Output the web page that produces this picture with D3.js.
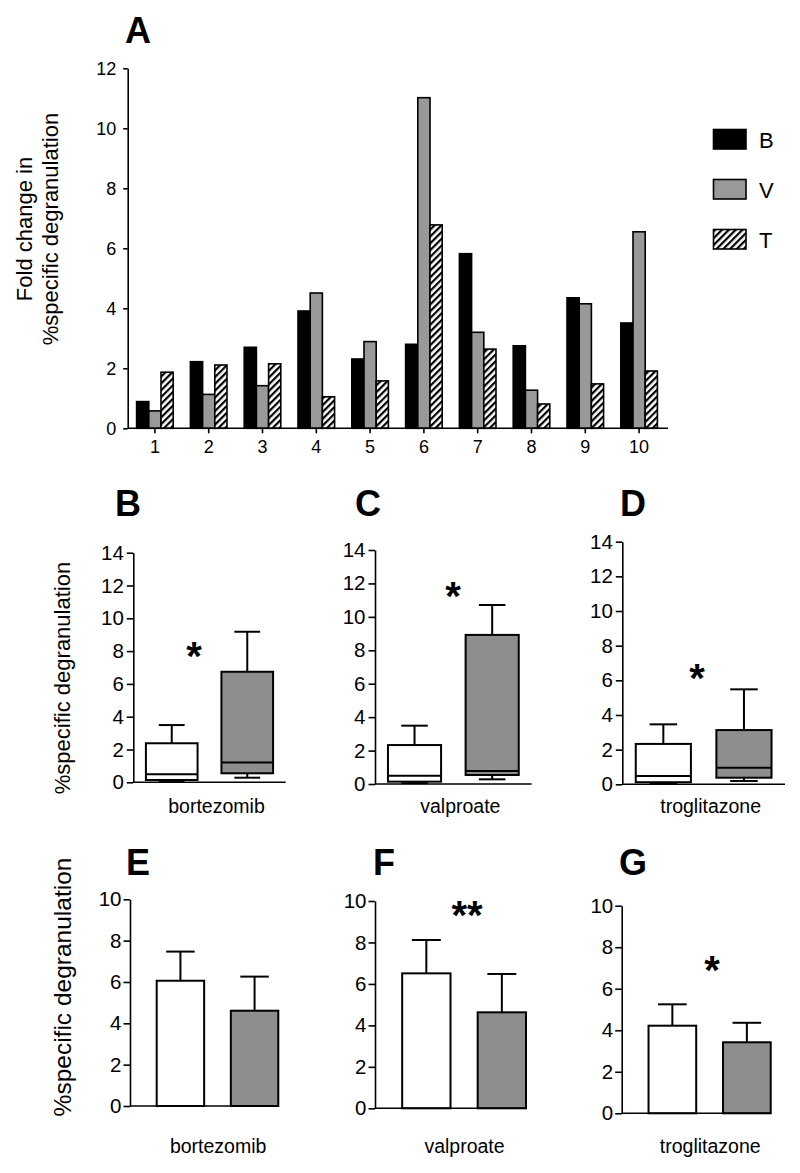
<!DOCTYPE html>
<html><head><meta charset="utf-8">
<script src="https://cdn.jsdelivr.net/npm/d3@7"></script>
<style>
body{margin:0;background:#fff}
svg{display:block}
text{font-family:"Liberation Sans", Arial, sans-serif; fill:#000}
</style>
</head><body><svg id="chart" width="800" height="1173"></svg>
<script>
// ---------- DATA ----------
// Panel A: fold change per donor
const donors = ["1","2","3","4","5","6","7","8","9","10"];
const seriesKeys = ["B","V","T"];
const seriesB = [0.89, 2.22, 2.70, 3.91, 2.31, 2.80, 5.82, 2.75, 4.35, 3.51];
const seriesV = [0.58, 1.13, 1.42, 4.51, 2.89, 11.02, 3.20, 1.27, 4.15, 6.55];
const seriesT = [1.87, 2.11, 2.15, 1.05, 1.58, 6.78, 2.64, 0.81, 1.48, 1.91];
const ticksA = [0, 2, 4, 6, 8, 10, 12];

// Panels B-D: box plots [whiskerLow, q1, median, q3, whiskerHigh]
const drugs = ["bortezomib", "valproate", "troglitazone"];
const groups = ["control", "treated"];
const boxControl = [
  [0.05, 0.14, 0.49, 2.38, 3.49],
  [0.05, 0.14, 0.50, 2.33, 3.49],
  [0.05, 0.12, 0.48, 2.33, 3.46]
];
const boxTreated = [
  [0.28, 0.55, 1.20, 6.74, 9.18],
  [0.28, 0.54, 0.78, 8.92, 10.71],
  [0.19, 0.38, 0.96, 3.13, 5.48]
];
const boxStars = ["*", "*", "*"];
const ticksBox = [0, 2, 4, 6, 8, 10, 12, 14];

// Panels E-G: mean + error
const barControlMean = [6.06, 6.51, 4.22];
const barControlErr  = [1.41, 1.61, 1.03];
const barTreatedMean = [4.61, 4.63, 3.42];
const barTreatedErr  = [1.65, 1.85, 0.94];
const barStars = ["", "**", "*"];
const ticksBar = [0, 2, 4, 6, 8, 10];

// ---------- LAYOUT ----------
const FONT = '"Liberation Sans", Arial, sans-serif';
const GRAY_A = "#999999";
const GRAY = "#8e8e8e";
const svg = d3.select("#chart");

const defs = svg.append("defs");
const pat = defs.append("pattern").attr("id", "hatch")
  .attr("patternUnits", "userSpaceOnUse").attr("width", 4.8).attr("height", 4.8)
  .attr("patternTransform", "rotate(45)");
pat.append("rect").attr("width", 4.8).attr("height", 4.8).attr("fill", "#fff");
pat.append("rect").attr("x", 0).attr("width", 2.2).attr("height", 4.8).attr("fill", "#000");

function styleAxis(g, size, stroke) {
  g.attr("font-size", size);
  g.selectAll("path.domain").attr("stroke", "#000").attr("stroke-width", stroke);
  g.selectAll(".tick line").attr("stroke", "#000").attr("stroke-width", stroke);
  g.selectAll(".tick text").attr("font-size", size).attr("font-family", FONT).attr("fill", "#000");
}
function letter(t, x, y) {
  svg.append("text").attr("x", x).attr("y", y).attr("text-anchor", "middle")
    .attr("font-size", 36).attr("font-weight", "bold").text(t);
}
function star(t, x, cy) {
  if (!t) return;
  svg.append("text").attr("x", x).attr("y", cy + 22).attr("text-anchor", "middle")
    .attr("font-size", 40).attr("font-weight", "bold").text(t);
}
function yTitle(lines, bx, cy, size, gap) {
  lines.forEach((l, i) => {
    svg.append("text").attr("transform", `translate(${bx + i * gap},${cy}) rotate(-90)`)
      .attr("text-anchor", "middle").attr("font-size", size).text(l);
  });
}

// ---------- PANEL A ----------
letter("A", 138, 43);
const xA = d3.scaleBand().domain(donors).range([128, 666]).paddingInner(0.32).paddingOuter(0.16);
const xSub = d3.scaleBand().domain(seriesKeys).range([0, xA.bandwidth()]);
const yA = d3.scaleLinear().domain([0, 12]).range([428.3, 68.3]);
const seriesVals = {B: seriesB, V: seriesV, T: seriesT};
const fills = {B: "#000", V: GRAY_A, T: "url(#hatch)"};

const gA = svg.append("g");
donors.forEach((d, i) => {
  seriesKeys.forEach(k => {
    const v = seriesVals[k][i];
    gA.append("rect")
      .attr("x", xA(d) + xSub(k)).attr("width", xSub.bandwidth())
      .attr("y", yA(v)).attr("height", yA(0) - yA(v))
      .attr("fill", fills[k]).attr("stroke", "#000").attr("stroke-width", 1.6);
  });
});
const axA_y = svg.append("g").attr("transform", `translate(127.7,0)`)
  .call(d3.axisLeft(yA).tickValues(ticksA).tickSizeInner(4.5).tickSizeOuter(0).tickPadding(7));
styleAxis(axA_y, 18, 1.6);
const axA_x = svg.append("g").attr("transform", `translate(0,${yA(0)})`)
  .call(d3.axisBottom(xA).tickSizeInner(5).tickSizeOuter(0).tickPadding(7));
styleAxis(axA_x, 18, 1.6);
axA_x.select("path.domain").attr("d", `M${127.7},0H668`);
yTitle(["Fold change in", "%specific degranulation"], 32, 229, 22, 26);

// legend
const legY = d3.scaleBand().domain(seriesKeys).range([124, 274]).paddingInner(0);
seriesKeys.forEach(k => {
  svg.append("rect").attr("x", 713.5).attr("y", legY(k) + 5.5).attr("width", 32.5).attr("height", 19.5)
    .attr("fill", fills[k]).attr("stroke", "#000").attr("stroke-width", 1.6);
  svg.append("text").attr("x", 759).attr("y", legY(k) + 23.5).attr("font-size", 22).text(k);
});

// ---------- PANELS B-D ----------
const boxLayout = [
  {L: "B", x0: 133.3, x1: 285.7, y0: 782.3, y1: 552.7, lx: 128, starX: 194, starY: 648},
  {L: "C", x0: 375.0, x1: 531.7, y0: 784.0, y1: 550.0, lx: 368, starX: 453, starY: 588},
  {L: "D", x0: 622.3, x1: 785.0, y0: 784.3, y1: 541.7, lx: 633, starX: 697, starY: 670}
];
boxLayout.forEach((p, i) => {
  letter(p.L, p.lx, 516);
  const x = d3.scaleBand().domain(groups).range([p.x0, p.x1]).paddingInner(0.316).paddingOuter(0.167);
  const y = d3.scaleLinear().domain([0, 14]).range([p.y0, p.y1]);
  const stats = [boxControl[i], boxTreated[i]];
  const g = svg.append("g");
  groups.forEach((grp, j) => {
    const [lo, q1, med, q3, hi] = stats[j];
    const bx = x(grp), bw = x.bandwidth(), cx = bx + bw / 2, cw = bw * 0.25;
    g.append("line").attr("x1", cx).attr("x2", cx).attr("y1", y(q3)).attr("y2", y(hi)).attr("stroke", "#000").attr("stroke-width", 2);
    g.append("line").attr("x1", cx - cw).attr("x2", cx + cw).attr("y1", y(hi)).attr("y2", y(hi)).attr("stroke", "#000").attr("stroke-width", 2);
    g.append("line").attr("x1", cx).attr("x2", cx).attr("y1", y(q1)).attr("y2", y(lo)).attr("stroke", "#000").attr("stroke-width", 2);
    g.append("line").attr("x1", cx - cw).attr("x2", cx + cw).attr("y1", y(lo)).attr("y2", y(lo)).attr("stroke", "#000").attr("stroke-width", 2);
    g.append("rect").attr("x", bx).attr("width", bw).attr("y", y(q3)).attr("height", y(q1) - y(q3))
      .attr("fill", j === 0 ? "#fff" : GRAY).attr("stroke", "#000").attr("stroke-width", 2);
    g.append("line").attr("x1", bx).attr("x2", bx + bw).attr("y1", y(med)).attr("y2", y(med)).attr("stroke", "#000").attr("stroke-width", 2);
  });
  const ay = svg.append("g").attr("transform", `translate(${p.x0},0)`)
    .call(d3.axisLeft(y).tickValues(ticksBox).tickSizeInner(6.5).tickSizeOuter(0).tickPadding(3));
  styleAxis(ay, 20.5, 1.6);
  svg.append("line").attr("x1", x.range()[0]).attr("x2", x.range()[1]).attr("y1", y(0)).attr("y2", y(0))
    .attr("stroke", "#000").attr("stroke-width", 1.6);
  svg.append("text").attr("x", (x.range()[0] + x.range()[1]) / 2 + 7).attr("y", 813)
    .attr("text-anchor", "middle").attr("font-size", 19.5).text(drugs[i]);
  star(boxStars[i], p.starX, p.starY);
});
yTitle(["%specific degranulation"], 70, 678, 22, 0);

// ---------- PANELS E-G ----------
const barLayout = [
  {L: "E", x0: 130.0, x1: 278.3, y0: 1106.0, y1: 899.3, lx: 138, starX: 0, starY: 0},
  {L: "F", x0: 375.0, x1: 526.0, y0: 1108.3, y1: 901.0, lx: 384, starX: 467, starY: 907},
  {L: "G", x0: 621.7, x1: 770.7, y0: 1113.3, y1: 905.7, lx: 633, starX: 712, starY: 962}
];
barLayout.forEach((p, i) => {
  letter(p.L, p.lx, 875);
  const x = d3.scaleBand().domain(groups).range([p.x0, p.x1]).paddingInner(0.36).paddingOuter(0.18).align(1);
  const y = d3.scaleLinear().domain([0, 10]).range([p.y0, p.y1]);
  const means = [barControlMean[i], barTreatedMean[i]];
  const errs = [barControlErr[i], barTreatedErr[i]];
  const g = svg.append("g");
  groups.forEach((grp, j) => {
    const bx = x(grp), bw = x.bandwidth(), cx = bx + bw / 2, cw = bw * 0.3;
    const m = means[j], e = errs[j];
    g.append("line").attr("x1", cx).attr("x2", cx).attr("y1", y(m)).attr("y2", y(m + e)).attr("stroke", "#000").attr("stroke-width", 2);
    g.append("line").attr("x1", cx - cw).attr("x2", cx + cw).attr("y1", y(m + e)).attr("y2", y(m + e)).attr("stroke", "#000").attr("stroke-width", 2);
    g.append("rect").attr("x", bx).attr("width", bw).attr("y", y(m)).attr("height", y(0) - y(m))
      .attr("fill", j === 0 ? "#fff" : GRAY).attr("stroke", "#000").attr("stroke-width", 2);
  });
  const ay = svg.append("g").attr("transform", `translate(${p.x0},0)`)
    .call(d3.axisLeft(y).tickValues(ticksBar).tickSizeInner(6.5).tickSizeOuter(0).tickPadding(2));
  styleAxis(ay, 20.5, 1.6);
  svg.append("line").attr("x1", x.range()[0]).attr("x2", x.range()[1]).attr("y1", y(0)).attr("y2", y(0))
    .attr("stroke", "#000").attr("stroke-width", 1.6);
  svg.append("text").attr("x", (x.range()[0] + x.range()[1]) / 2 + 14).attr("y", 1153)
    .attr("text-anchor", "middle").attr("font-size", 19.5).text(drugs[i]);
  star(barStars[i], p.starX, p.starY);
});
yTitle(["%specific degranulation"], 71, 987, 24.5, 0);
</script>
</body></html>
